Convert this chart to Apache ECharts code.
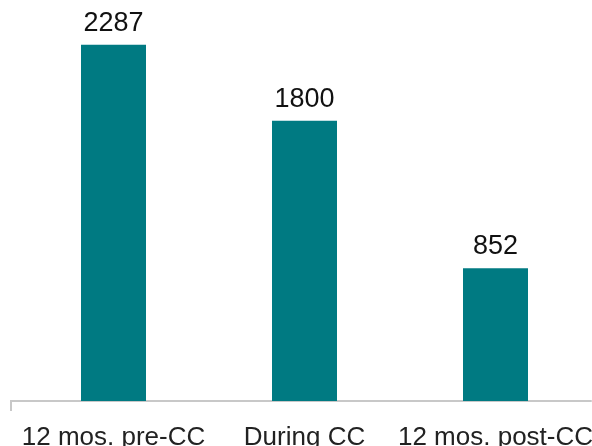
<!DOCTYPE html>
<html><head><meta charset="utf-8">
<script src="https://cdn.jsdelivr.net/npm/echarts@6/dist/echarts.min.js"></script>
<style>html,body{margin:0;padding:0;background:#fff}#c{width:592px;height:446px}</style>
</head><body><div id="c"></div>
<script>
var categories = ['12 mos. pre-CC', 'During CC', '12 mos. post-CC'];
var values = [2287, 1800, 852];

var chart = echarts.init(document.getElementById('c'), null, {renderer: 'canvas'});
chart.setOption({
  animation: false,
  grid: {left: 18, right: 1, top: 0, bottom: 45, containLabel: false, outerBoundsMode: 'none'},
  xAxis: {
    type: 'category',
    data: categories,
    axisLine: {lineStyle: {color: '#c8c8c8', width: 2}},
    axisTick: {show: false},
    axisLabel: {fontFamily: 'Liberation Sans, Arial, sans-serif', fontSize: 26, color: '#222', margin: 24, interval: 0}
  },
  yAxis: {type: 'value', min: 0, max: 2575, show: false, splitLine: {show: false}},
  series: [{
    type: 'bar',
    data: values,
    barWidth: 65,
    itemStyle: {color: '#007a82'},
    label: {show: true, position: 'top', distance: 8, fontFamily: 'Liberation Sans, Arial, sans-serif', fontSize: 27, color: '#111'}
  }],
  graphic: [
    {type: 'line', shape: {x1: 11, y1: 401, x2: 18, y2: 401}, style: {stroke: '#c8c8c8', lineWidth: 2}},
    {type: 'line', shape: {x1: 11, y1: 400, x2: 11, y2: 411}, style: {stroke: '#c8c8c8', lineWidth: 2}}
  ]
});
</script></body></html>
